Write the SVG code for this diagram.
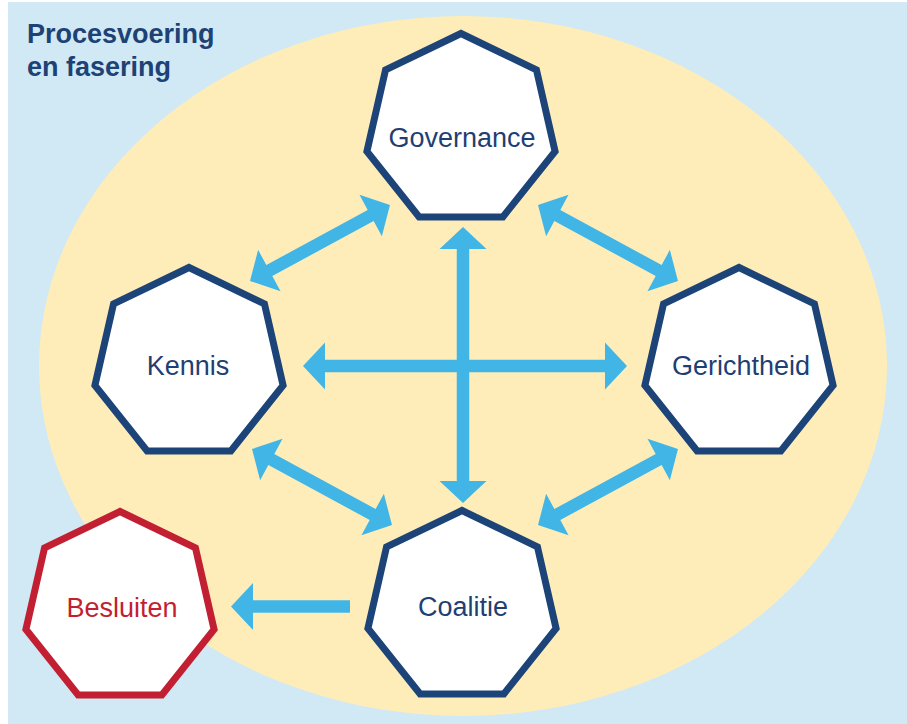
<svg xmlns="http://www.w3.org/2000/svg" width="907" height="724" viewBox="0 0 907 724">
  <style>
    .hept { fill: #ffffff; stroke: #1c4478; stroke-width: 7; stroke-linejoin: miter; }
    .hept.red { stroke: #c31f33; }
    .lbl { font-family: "Liberation Sans", Arial, sans-serif; font-size: 27px; fill: #1f3f73; text-anchor: middle; }
    .lbl.red { fill: #c31f33; }
    .title { font-family: "Liberation Sans", Arial, sans-serif; font-size: 27px; font-weight: bold; fill: #1d4275; }
    .arrow { fill: #41b6e6; }
  </style>
  <defs>
    <polygon id="hep" points="0,-96.5 75.45,-60.17 94.08,21.47 41.87,86.94 -41.87,86.94 -94.08,21.47 -75.45,-60.17"/>
  </defs>
  <rect x="0" y="0" width="907" height="724" fill="#ffffff"/>
  <rect x="8" y="2" width="899" height="722" fill="#d1e8f5"/>
  <ellipse cx="463" cy="366" rx="424" ry="350" fill="#feedb9"/>
  <g id="title">
    <text class="title" x="27" y="43">Procesvoering</text>
    <text class="title" x="27" y="76">en fasering</text>
  </g>
  <g id="connectors">
    <path class="arrow" transform="translate(250,281) rotate(-28.5)" d="M0,0 L22,-23.5 L22,-6.25 L137.3,-6.25 L137.3,-23.5 L159.3,0 L137.3,23.5 L137.3,6.25 L22,6.25 L22,23.5 Z"/>
    <path class="arrow" transform="translate(538,205) rotate(28.5)" d="M0,0 L22,-23.5 L22,-6.25 L137.3,-6.25 L137.3,-23.5 L159.3,0 L137.3,23.5 L137.3,6.25 L22,6.25 L22,23.5 Z"/>
    <path class="arrow" transform="translate(252,449) rotate(28.5)" d="M0,0 L22,-23.5 L22,-6.25 L137.3,-6.25 L137.3,-23.5 L159.3,0 L137.3,23.5 L137.3,6.25 L22,6.25 L22,23.5 Z"/>
    <path class="arrow" transform="translate(538,525) rotate(-28.5)" d="M0,0 L22,-23.5 L22,-6.25 L137.3,-6.25 L137.3,-23.5 L159.3,0 L137.3,23.5 L137.3,6.25 L22,6.25 L22,23.5 Z"/>
    <path class="arrow" transform="translate(463,227) rotate(90)" d="M0,0 L22,-23.5 L22,-6.25 L254,-6.25 L254,-23.5 L276,0 L254,23.5 L254,6.25 L22,6.25 L22,23.5 Z"/>
    <path class="arrow" transform="translate(303,366)" d="M0,0 L22,-23.5 L22,-6.25 L302,-6.25 L302,-23.5 L324,0 L302,23.5 L302,6.25 L22,6.25 L22,23.5 Z"/>
    <path class="arrow" transform="translate(231,606.5)" d="M0,0 L22,-23.5 L22,-6.25 L119,-6.25 L119,6.25 L22,6.25 L22,23.5 Z"/>
  </g>
  <g id="governance">
    <use href="#hep" class="hept" transform="translate(461,130)"/>
    <text class="lbl" x="462" y="147">Governance</text>
  </g>
  <g id="kennis">
    <use href="#hep" class="hept" transform="translate(189,364)"/>
    <text class="lbl" x="188" y="375">Kennis</text>
  </g>
  <g id="gerichtheid">
    <use href="#hep" class="hept" transform="translate(739,364)"/>
    <text class="lbl" x="741" y="375">Gerichtheid</text>
  </g>
  <g id="coalitie">
    <use href="#hep" class="hept" transform="translate(462,607)"/>
    <text class="lbl" x="463" y="616">Coalitie</text>
  </g>
  <g id="besluiten">
    <use href="#hep" class="hept red" transform="translate(120,608)"/>
    <text class="lbl red" x="122" y="617">Besluiten</text>
  </g>
</svg>
